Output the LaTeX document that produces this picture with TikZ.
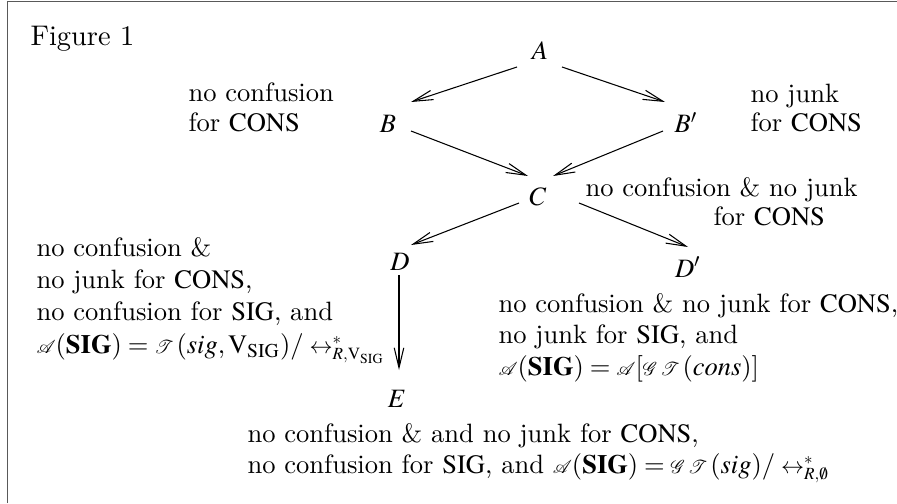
\documentclass[tikz,border=0pt]{standalone}
\usepackage{mathptmx}
\usepackage[no-math]{fontspec}
\renewcommand{\rmdefault}{lmr}
\usetikzlibrary{arrows.meta}
\newcommand{\CONS}{\ensuremath{\mathrm{CONS}}}
\newcommand{\SIG}{\ensuremath{\mathrm{SIG}}}
\newcommand{\calx}[1]{\mbox{\scalebox{0.7}{$\mathcal{#1}$}}}
\newcommand{\rewr}[1]{\mathrel{\mbox{\scalebox{0.87}{$\leftrightarrow^{*}_{#1}$}}}}
\begin{document}
\begin{tikzpicture}[x=0.377pt,y=-0.377pt,
  txt/.style={anchor=base west,inner sep=0pt,font=\fontsize{10}{12}\selectfont},
  vtx/.style={anchor=base,inner sep=0pt},
  arr/.style={line width=0.4pt,-{Straight Barb[length=7.5pt,width=3.6pt]}}]
\useasboundingbox (0,0) rectangle (897,503);
\draw[black!65,line width=0.7pt] (7.5,503) -- (7.5,1.5) -- (897,1.5);
\node[anchor=base west,inner sep=0pt,font=\fontsize{10.7}{13}\selectfont] (fig) at (30,46) {Figure 1};
% vertices
\node[vtx] (A) at (540,60) {$A$};
\node[vtx] (B) at (388,133) {$B$};
\node[vtx] (Bp) at (686,133) {$B'$};
\node[vtx] (C) at (538,205) {$C$};
\node[vtx] (D) at (400,270) {$D$};
\node[vtx] (Dp) at (688,277) {$D'$};
\node[vtx] (E) at (397,407) {$E$};
% arrows
\draw[arr] ([shift={(-23,7)}]A.base) -- ([shift={(23,-31)}]B.base);
\draw[arr] ([shift={(22,7)}]A.base) -- ([shift={(-21,-31)}]Bp.base);
\draw[arr] ([shift={(23,-2)}]B.base) -- ([shift={(-10,-29)}]C.base);
\draw[arr] ([shift={(-23,-2)}]Bp.base) -- ([shift={(15,-29)}]C.base);
\draw[arr] ([shift={(-19,-2)}]C.base) -- ([shift={(11,-25)}]D.base);
\draw[arr] ([shift={(41,-2)}]C.base) -- ([shift={(0,-30)}]Dp.base);
\draw[arr] ([shift={(-1,5)}]D.base) -- ([shift={(2,-37)}]E.base);
% labels
\node[txt] (t1a) at (188,102) {no confusion};
\node[txt] (t1b) at (188,132) {for \CONS};
\node[txt] (t2a) at (750,103) {no junk};
\node[txt] (t2b) at (750,132) {for \CONS};
\node[txt] (t3a) at (585,197) {no confusion \& no junk};
\node[txt] (t3b) at (713,225) {for \CONS};
\node[txt] (t4a) at (36,256) {no confusion \&};
\node[txt] (t4b) at (36,288) {no junk for \CONS,};
\node[txt] (t4c) at (36,320) {no confusion for \SIG, and};
\node[txt] (t4d) at (36,353) {$\calx{A}(\mathbf{SIG}) = \calx{T}\,(\mathit{sig}, \mathrm{V}_{\mathrm{SIG}})/\rewr{R,\mathrm{V}_{\mathrm{SIG}}}$};
\node[txt] (t5a) at (498,312) {no confusion \& no junk for \CONS,};
\node[txt] (t5b) at (498,343) {no junk for \SIG, and};
\node[txt] (t5c) at (498,375) {$\calx{A}(\mathbf{SIG}) = \calx{A}[\calx{G}\,\calx{T}\,(\mathit{cons})]$};
\node[txt] (t6a) at (247,442) {no confusion \& and no junk for \CONS,};
\node[txt] (t6b) at (247,473) {no confusion for \SIG, and $\calx{A}(\mathbf{SIG}) = \calx{G}\,\calx{T}\,(\mathit{sig})/\rewr{R,\emptyset}$};
\end{tikzpicture}
\end{document}
